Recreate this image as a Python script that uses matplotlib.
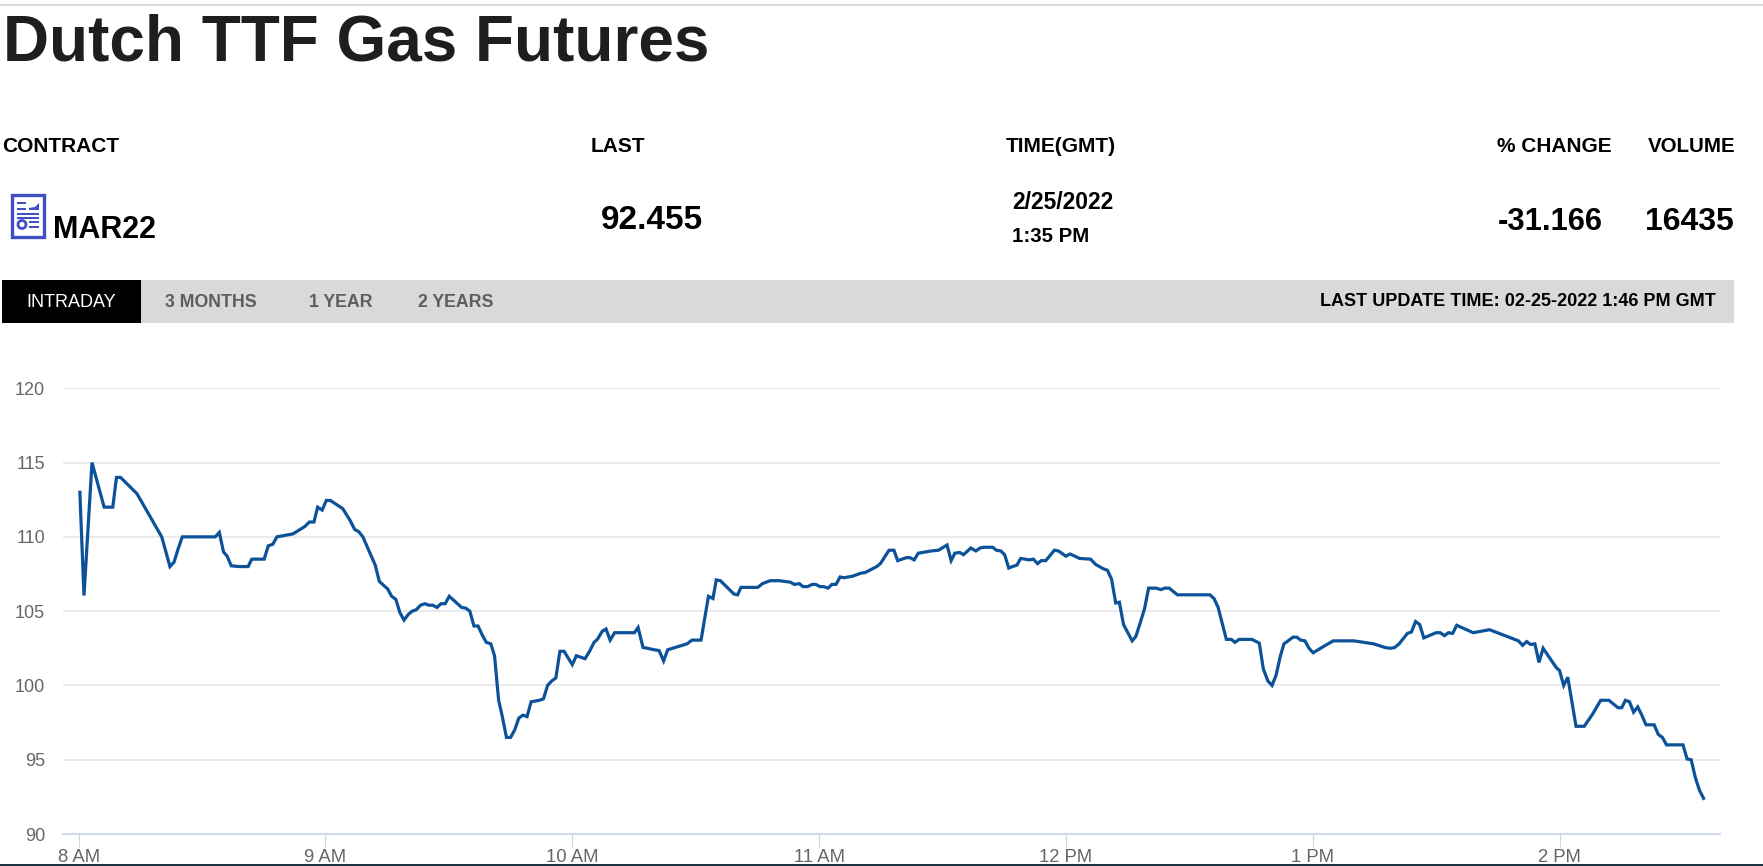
import matplotlib
matplotlib.use("Agg")
import matplotlib.pyplot as plt
from matplotlib.patches import Rectangle, Polygon, Ellipse

W, H = 1763, 866
plt.rcParams["font.family"] = ["Liberation Sans", "DejaVu Sans"]

# minutes after 8 AM
minutes = [0.3, 1.3, 3.25, 6.2, 8.3, 9.2, 10.2, 14.2, 20.2, 22.2, 23.2, 24.2, 25.2, 33.2, 34.2, 35.2, 36.1, 37.1, 39.1, 41.2,
           42.1, 45.1, 46.1, 47.2, 48.2, 52.1, 55, 56.1, 57.2, 58.1, 59.2, 60.2, 61.2, 64.2, 66, 67.1, 68.1, 69.1, 72.1, 73.1,
           75.1, 76.1, 77.1, 78.1, 79.1, 80.2, 81.1, 82.1, 83.1, 84.2, 85.1, 86.1, 87.1, 88.1, 89.1, 90.1, 92.1, 93.1, 94.1, 95.1,
           96.1, 97.1, 98.1, 99.1, 100.2, 101.1, 102.1, 103, 104, 105, 106, 107, 108, 109, 110, 112, 113, 114, 115, 116,
           117, 118, 120, 121, 123.1, 124.2, 125.3, 126.1, 127.3, 128.2, 129.2, 130.3, 135.1, 136, 137.2, 138.3, 139.9, 141.1, 142.2, 143.2,
           147.9, 149.1, 151.3, 153.1, 154.2, 155, 156, 159.3, 160.2, 161, 165.1, 166.2, 168.1, 170.3, 173, 174, 175.2, 176.1, 177.2, 178.3,
           179.2, 180.2, 181.1, 182.2, 183.1, 184.1, 185.1, 186.1, 188.1, 190.1, 191.2, 194, 194.9, 197, 198.2, 199.1, 201.2, 202.1, 203.1, 204.1,
           206.1, 207.2, 209, 211.1, 212.1, 213, 214.2, 215.1, 216.9, 218.1, 219.1, 220, 222.2, 223.1, 224.2, 225.1, 226.1, 227, 228.1, 229,
           230.1, 231.1, 232.1, 233.1, 234, 235.1, 237.2, 238.2, 240, 241, 243.3, 246, 247.2, 249.1, 250.1, 251.1, 252.1, 253, 254, 256.1,
           257, 258.1, 259.1, 260.1, 261.9, 263.1, 264, 265.1, 267.1, 275, 276, 277, 279, 280.2, 281.1, 282.1, 285.2, 287, 288, 289.1,
           290.1, 291.1, 292.1, 293, 294, 295.2, 296.1, 297.1, 298.1, 299.1, 300.1, 303.1, 305, 310, 314.8, 317.6, 318.8, 319.9, 321, 323,
           324, 325, 326, 327, 330, 331, 332, 333, 334, 335, 339, 343, 350, 351, 352, 353, 354, 355, 356, 359.2,
           360, 361, 362, 364, 366, 368.1, 370, 372, 374.2, 375.1, 376, 377, 378, 379, 380, 381, 383, 384, 385, 386,
           390, 391, 392, 393, 394, 395]
prices = [113, 106.05, 115, 112, 112, 114, 114, 112.9, 110, 108, 108.3, 109.2, 110, 110, 110.3, 109, 108.7, 108.05, 108, 108,
          108.5, 108.5, 109.4, 109.5, 110, 110.2, 110.7, 111, 111, 112, 111.8, 112.45, 112.45, 111.9, 111.1, 110.5, 110.35, 110, 108.1, 107,
          106.5, 106, 105.8, 104.9, 104.4, 104.8, 105, 105.1, 105.4, 105.5, 105.4, 105.4, 105.25, 105.5, 105.5, 106, 105.5, 105.25, 105.2, 105,
          104, 104, 103.4, 102.9, 102.8, 102, 99, 97.9, 96.5, 96.5, 97, 97.8, 98, 97.9, 98.9, 99, 99.1, 100, 100.3, 100.5,
          102.3, 102.3, 101.4, 102, 101.8, 102.3, 102.9, 103.1, 103.65, 103.8, 103.05, 103.55, 103.55, 103.9, 102.55, 102.5, 102.4, 102.35, 101.65, 102.4,
          102.8, 103.05, 103.05, 106, 105.85, 107.1, 107.05, 106.15, 106.1, 106.6, 106.6, 106.85, 107.05, 107.05, 106.95, 106.8, 106.85, 106.65, 106.65, 106.8,
          106.8, 106.65, 106.65, 106.55, 106.8, 106.8, 107.3, 107.25, 107.35, 107.55, 107.6, 108, 108.2, 109.1, 109.1, 108.4, 108.6, 108.6, 108.45, 108.9,
          109, 109.05, 109.1, 109.45, 108.4, 108.9, 108.95, 108.8, 109.25, 109.05, 109.25, 109.3, 109.3, 109.1, 109.05, 108.8, 107.9, 108, 108.1, 108.55,
          108.5, 108.45, 108.5, 108.2, 108.4, 108.4, 109.1, 109.05, 108.7, 108.85, 108.55, 108.5, 108.15, 107.85, 107.75, 107.15, 105.55, 105.6, 104.1, 103,
          103.3, 104.25, 105.15, 106.55, 106.55, 106.45, 106.55, 106.55, 106.1, 106.1, 105.85, 105.25, 103.1, 103.1, 102.9, 103.1, 103.1, 102.85, 101.1, 100.3,
          100, 100.7, 101.95, 102.8, 103, 103.25, 103.25, 103.05, 103, 102.5, 102.2, 102.7, 103, 103, 102.8, 102.55, 102.5, 102.55, 102.8, 103.5,
          103.6, 104.3, 104.1, 103.2, 103.55, 103.55, 103.35, 103.55, 103.5, 104.05, 103.55, 103.75, 103, 102.7, 102.95, 102.75, 102.8, 101.55, 102.5, 101.2,
          101, 100, 100.55, 97.25, 97.25, 98.1, 99, 99, 98.5, 98.5, 99, 98.9, 98.2, 98.55, 98, 97.35, 97.35, 96.7, 96.5, 96,
          96, 95.05, 95, 93.8, 92.95, 92.4]

y_ticks = [90, 95, 100, 105, 110, 115, 120]
x_ticks = [0, 60, 120, 180, 240, 300, 360]
x_labels = ["8 AM", "9 AM", "10 AM", "11 AM", "12 PM", "1 PM", "2 PM"]
tabs = ["3 MONTHS", "1 YEAR", "2 YEARS"]
ICON = "#3f4fc4"


def fx(x):
    return x / W


def fy(y):
    return 1 - y / H


def label(x, y, s, size, ha="left", weight="bold", color="#000000"):
    # x, y in reference pixels, y is the vertical middle of the text
    fig.text(fx(x), fy(y), s, fontsize=size, ha=ha, va="center_baseline", fontweight=weight, color=color)


def box(x0, y0, x1, y1, **kw):
    fig.add_artist(Rectangle((fx(x0), fy(y1)), (x1 - x0) / W, (y1 - y0) / H, transform=fig.transFigure, lw=kw.pop("lw", 0), **kw))


fig = plt.figure(figsize=(W / 100, H / 100), dpi=100, facecolor="white")

# chart
ax = fig.add_axes([fx(63), fy(834), (1720 - 63) / W, (834 - 388.3) / H])
ax.plot(minutes, prices, color="#0b5299", lw=2.3, solid_joinstyle="miter", zorder=3)
ax.set_xlim(-3.8, 399)
ax.set_ylim(90, 120)
ax.set_yticks(y_ticks)
ax.set_xticks(x_ticks)
ax.set_xticklabels(x_labels)
ax.grid(axis="y", color="#e8e8ea", lw=1.3)
ax.set_axisbelow(True)
for s in ("top", "left", "right"):
    ax.spines[s].set_visible(False)
ax.spines["bottom"].set_color("#ccd6eb")
ax.spines["bottom"].set_linewidth(1.3)
ax.tick_params(axis="y", length=0, pad=13, labelsize=13, labelcolor="#666666")
ax.tick_params(axis="x", length=9, width=0.8, color="#ccd6eb", pad=2, labelsize=13.3, labelcolor="#666666")
ax.patch.set_alpha(0)

# page header
box(0, 4, W, 6, facecolor="#d9dbe0")
label(3, 37, "Dutch TTF Gas Futures", 46, color="#1e1e1e")

label(2, 145, "CONTRACT", 15)
label(591, 145, "LAST", 15)
label(1006, 145, "TIME(GMT)", 15)
label(1497, 145, "% CHANGE", 15)
label(1735, 145, "VOLUME", 14.8, ha="right")

label(53, 226, "MAR22", 22)
label(601, 217, "92.455", 24)
label(1012, 200, "2/25/2022", 16.5)
label(1012, 235, "1:35 PM", 14.7)
label(1603, 218, "-31.166", 22.2, ha="right")
label(1734, 218, "16435", 23, ha="right")

# report icon
box(12, 195, 44, 237, facecolor="none", edgecolor=ICON, lw=2.4)
for (x0, y0, x1, y1) in [(17, 202, 26, 204), (17, 208, 26, 210), (17, 213, 39, 215), (17, 217, 39, 219),
                         (29, 221, 39, 223), (29, 226, 39, 228)]:
    box(x0, y0, x1, y1, facecolor=ICON)
fig.add_artist(Polygon([(fx(29), fy(210)), (fx(39), fy(210)), (fx(39), fy(203)), (fx(35), fy(207)), (fx(29), fy(208))],
                       transform=fig.transFigure, facecolor=ICON, lw=0))
fig.add_artist(Ellipse((fx(22), fy(224.5)), 8 / W, 8 / H, transform=fig.transFigure, facecolor="none", edgecolor=ICON, lw=2))

# tab bar
box(2, 280, 1734, 323, facecolor="#d8d9db")
box(2, 280, 141, 323, facecolor="#000000")
label(71, 301, "INTRADAY", 13, ha="center", weight="normal", color="#ffffff")
for tab, x in zip(tabs, [165, 309, 418]):
    label(x, 301, tab, 12.8, weight="bold", color="#5e5e5e")
label(1716, 300, "LAST UPDATE TIME: 02-25-2022 1:46 PM GMT", 13, ha="right")

# strip at the bottom of the screenshot
box(0, 864, W, 866, facecolor="#1e3340")

fig.savefig("out.png", dpi=100)
